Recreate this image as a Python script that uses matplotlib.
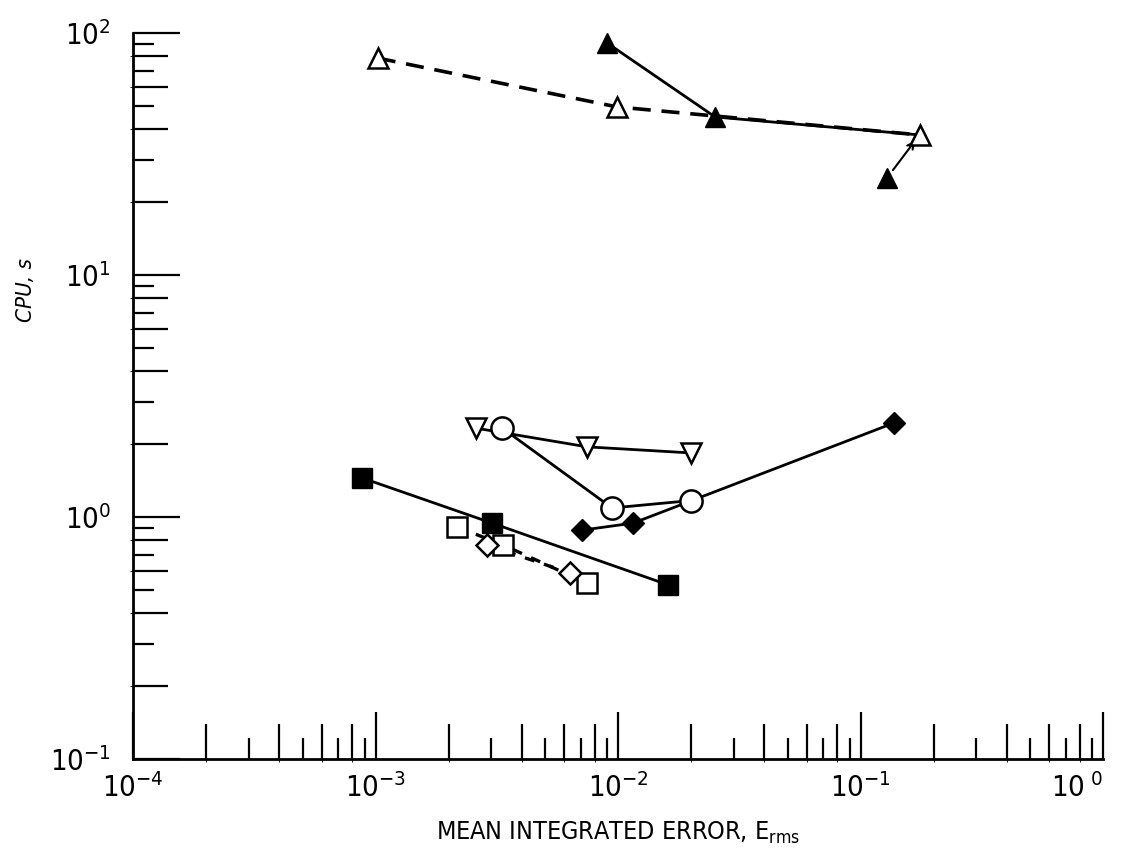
import matplotlib
matplotlib.use("Agg")
import matplotlib.pyplot as plt
from matplotlib.ticker import FixedLocator, NullFormatter

plt.rcParams['font.family'] = ['DejaVu Sans']
plt.rcParams['font.stretch'] = 'condensed'
plt.rcParams['mathtext.fontset'] = 'custom'
plt.rcParams['mathtext.rm'] = 'DejaVu Sans:stretch=condensed'
plt.rcParams['mathtext.it'] = 'DejaVu Sans:stretch=condensed:italic'

# open triangles, dashed
open_tri_x = [1.02e-3, 9.9e-3, 0.176]
open_tri_y = [78.8, 49.5, 37.9]
# filled triangles, solid (last point sits on the open triangle)
fill_tri_x = [9.0e-3, 0.0251, 0.176]
fill_tri_y = [91.0, 45.0, 37.9]
fill_tri_off_x = 0.1285   # displaced marker with arrow
fill_tri_off_y = 25.2
# open down triangles
down_tri_x = [2.59e-3, 7.44e-3, 0.0200]
down_tri_y = [2.33, 1.95, 1.84]
# open circles
circ_x = [3.33e-3, 9.44e-3, 0.0200]
circ_y = [2.33, 1.09, 1.17]
# filled diamonds
fdia_x = [7.12e-3, 0.01154, 0.1374]
fdia_y = [0.883, 0.944, 2.45]
# filled squares
fsq_x = [8.8e-4, 3.02e-3, 0.0161]
fsq_y = [1.45, 0.944, 0.524]
# open squares, dashed
osq_x = [2.17e-3, 3.36e-3, 7.44e-3]
osq_y = [0.91, 0.766, 0.533]
# open diamonds, dashed
odia_x = [2.88e-3, 6.34e-3]
odia_y = [0.766, 0.587]

fig = plt.figure(figsize=(11.28, 8.6), dpi=100)
ax = fig.add_axes([0.118, 0.1174, 0.86, 0.8442])
ax.set_xscale('log')
ax.set_yscale('log')
ax.set_xlim(1e-4, 1e0)
ax.set_ylim(1e-1, 1e2)

lw = 2.0
ax.plot(open_tri_x, open_tri_y, '--', color='black', lw=2.6, dashes=(5, 3), zorder=2)
ax.plot(fill_tri_x, fill_tri_y, '-', color='black', lw=lw, zorder=2)
ax.plot(open_tri_x, open_tri_y, '^', ms=15, mfc='white', mec='black', mew=1.8, zorder=4)
ax.plot(fill_tri_x[:2], fill_tri_y[:2], '^', ms=15, mfc='black', mec='black', zorder=5)
ax.plot([fill_tri_off_x], [fill_tri_off_y], '^', ms=15, mfc='black', mec='black', zorder=5)
ax.annotate('', xy=(open_tri_x[2] * 0.97, open_tri_y[2] * 0.97),
            xytext=(fill_tri_off_x, fill_tri_off_y),
            arrowprops=dict(arrowstyle='->', lw=1.5, color='black',
                            shrinkA=7, shrinkB=2, mutation_scale=12))

ax.plot(down_tri_x, down_tri_y, '-', color='black', lw=lw, zorder=2)
ax.plot(down_tri_x, down_tri_y, 'v', ms=15, mfc='white', mec='black', mew=1.8, zorder=4)
ax.plot(circ_x, circ_y, '-', color='black', lw=lw, zorder=2)
ax.plot(circ_x, circ_y, 'o', ms=16, mfc='white', mec='black', mew=1.8, zorder=4)
ax.plot(fdia_x, fdia_y, '-', color='black', lw=lw, zorder=2)
ax.plot(fdia_x, fdia_y, 'D', ms=11, mfc='black', mec='black', zorder=5)
ax.plot(fsq_x, fsq_y, '-', color='black', lw=lw, zorder=2)
ax.plot(fsq_x, fsq_y, 's', ms=14, mfc='black', mec='black', zorder=5)
ax.plot(osq_x, osq_y, '--', color='black', lw=2.4, dashes=(3, 3), zorder=2)
ax.plot(osq_x, osq_y, 's', ms=14, mfc='white', mec='black', mew=1.8, zorder=4)
ax.plot(odia_x, odia_y, '--', color='black', lw=2.4, dashes=(3, 3), zorder=2)
ax.plot(odia_x, odia_y, 'D', ms=11, mfc='white', mec='black', mew=1.8, zorder=4)

for s in ['top', 'right']:
    ax.spines[s].set_visible(False)
for s in ['left', 'bottom']:
    ax.spines[s].set_linewidth(2)

x_major = [1e-4, 1e-3, 1e-2, 1e-1, 1e0]
x_labels = [r'$10^{-4}$', r'$10^{-3}$', r'$10^{-2}$', r'$10^{-1}$', r'$10^{\ 0}$']
y_major = [1e-1, 1e0, 1e1, 1e2]
y_labels = [r'$10^{-1}$', r'$10^{0}$', r'$10^{1}$', r'$10^{2}$']

even = [2, 4, 6, 8]
odd = [3, 5, 7, 9]
ax.xaxis.set_major_locator(FixedLocator(x_major))
ax.set_xticklabels(x_labels)
ax.yaxis.set_major_locator(FixedLocator(y_major))
ax.set_yticklabels(y_labels)
ax.xaxis.set_minor_locator(FixedLocator([m * d for d in x_major[:-1] for m in even]))
ax.yaxis.set_minor_locator(FixedLocator([m * d for d in y_major[:-1] for m in even]))
ax.xaxis.set_minor_formatter(NullFormatter())
ax.yaxis.set_minor_formatter(NullFormatter())
ax.tick_params(which='major', direction='in', length=34, width=1.6, labelsize=21, pad=10)
ax.tick_params(axis='y', which='major', pad=16)
ax.tick_params(which='minor', direction='in', length=25, width=1.6)
ax.get_xticklabels()[-1].set_horizontalalignment('right')

# shorter odd minor ticks
secx = ax.secondary_xaxis(0)
secx.set_xticks([m * d for d in x_major[:-1] for m in odd])
secx.xaxis.set_major_formatter(NullFormatter())
secx.tick_params(direction='in', length=15, width=1.6)
secx.spines['bottom'].set_visible(False)
secy = ax.secondary_yaxis(0)
secy.set_yticks([m * d for d in y_major[:-1] for m in odd])
secy.yaxis.set_major_formatter(NullFormatter())
secy.tick_params(direction='in', length=15, width=1.6)
secy.spines['left'].set_visible(False)

ax.set_xlabel(r'MEAN INTEGRATED ERROR, E$_{\mathregular{rms}}$', fontsize=18, labelpad=12)
ax.set_ylabel('CPU, s', fontsize=16, style='italic')
ax.yaxis.set_label_coords(-0.1, 0.646)

fig.savefig('out.png', dpi=100)
